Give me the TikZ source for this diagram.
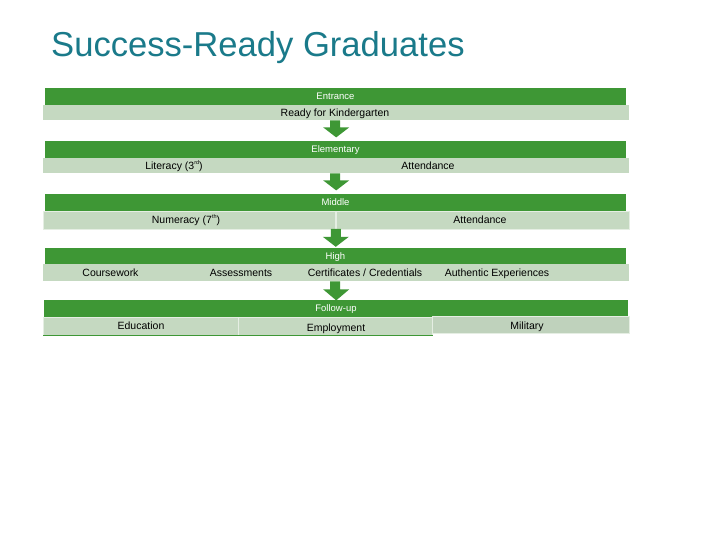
\documentclass[tikz,border=0pt]{standalone}
\usepackage{fontspec}
\setmainfont{Liberation Sans}
\definecolor{gbar}{RGB}{62,151,53}
\definecolor{lbar}{RGB}{197,217,193}
\definecolor{titlec}{RGB}{26,122,138}
\newcommand{\tinysup}[1]{\raisebox{0.9ex}{\fontsize{5.5}{6}\selectfont #1}}
\begin{document}
\begin{tikzpicture}[x=1pt,y=-1pt,
  hdr/.style={fill=gbar, draw=none, minimum width=581pt, minimum height=17pt, inner sep=0pt, text=white, font=\fontsize{9.5}{11}\selectfont, text depth=0pt},
  band/.style={fill=lbar, draw=none, minimum height=15pt, inner sep=0pt, anchor=north west},
  cell/.style={fill=lbar, draw=white!55!lbar, line width=0.8pt, inner sep=0pt, anchor=north west},
  lbl/.style={font=\fontsize{10.5}{12}\selectfont, inner sep=0pt, text=black, anchor=base},
  arrowfill/.style={fill=gbar, draw=none},
]
\useasboundingbox (0,0) rectangle (720,540);
\fill[white] (0,0) rectangle (720,540);

% title
\node[anchor=base west, inner sep=0pt, text=titlec, font=\fontsize{34.6}{40}\selectfont] (title) at (51,57) {Success-Ready Graduates};

% Entrance
\node[hdr] (entH) at (335.5,96.5) {Entrance};
\node[band, minimum width=586pt, minimum height=15pt] (entL) at (43,105) {};
\node[lbl] (entT) at (335,116.8) {Ready for Kindergarten};

% Elementary
\node[hdr] (elH) at (335.5,149.5) {Elementary};
\node[band, minimum width=586pt, minimum height=15pt] (elL) at (43,158) {};
\node[lbl] (elT1) at (174,169.8) {Literacy (3\tinysup{rd})};
\node[lbl] (elT2) at (428,169.8) {Attendance};

% Middle
\node[hdr] (miH) at (335.5,202.5) {Middle};
\node[cell, minimum width=292pt, minimum height=18pt] (miL1) at (43,211) {};
\node[cell, minimum width=293pt, minimum height=18pt] (miL2) at (336,211) {};
\node[lbl] at (186,223.8) {Numeracy (7\tinysup{th})};
\node[lbl] at (480,223.8) {Attendance};

% High
\node[hdr] (hiH) at (335.5,256) {High};
\node[band, minimum width=586pt, minimum height=17pt] (hiL) at (43,264) {};
\node[lbl] (hiT1) at (110.5,276.8) {Coursework};
\node[lbl] (hiT2) at (241,276.8) {Assessments};
\node[lbl] (hiT3) at (365,276.8) {Certificates / Credentials};
\node[lbl] (hiT4) at (497,276.8) {Authentic Experiences};

% Follow-up
\node[hdr, minimum width=584pt] (fuH) at (336,308.5) {Follow-up};
\node[cell, minimum width=195pt, minimum height=18pt] (fu1) at (43,317) {};
\node[cell, minimum width=194pt, minimum height=18pt] (fu2) at (238,317) {};
\node[cell, fill=lbar!92!gray, minimum width=197pt, minimum height=17pt] (fu3) at (432,316) {};
\draw[gbar, line width=0.9pt] (fu1.south west) -- (fu2.south east);
\node[lbl] at (141,329.8) {Education};
\node[lbl] at (336,331.8) {Employment};
\node[lbl] at (527,329.8) {Military};

% arrows
\fill[arrowfill] (entL.south) ++(-6,0) -- ++(10,0) -- ++(0,7) -- ++(9,0) -- ++(-13,10) -- ++(-13,-10) -- ++(7,0) -- cycle;
\fill[arrowfill] (elL.south) ++(-6,0) -- ++(10,0) -- ++(0,7) -- ++(9,0) -- ++(-13,10) -- ++(-13,-10) -- ++(7,0) -- cycle;
\fill[arrowfill] (miL1.south east) ++(-5,-1) -- ++(10,0) -- ++(0,8) -- ++(8,0) -- ++(-13,10) -- ++(-13,-10) -- ++(8,0) -- cycle;
\fill[arrowfill] (hiL.south) ++(-6,0) -- ++(10,0) -- ++(0,8) -- ++(9,0) -- ++(-13,11) -- ++(-13,-11) -- ++(7,0) -- cycle;
\end{tikzpicture}
\end{document}
